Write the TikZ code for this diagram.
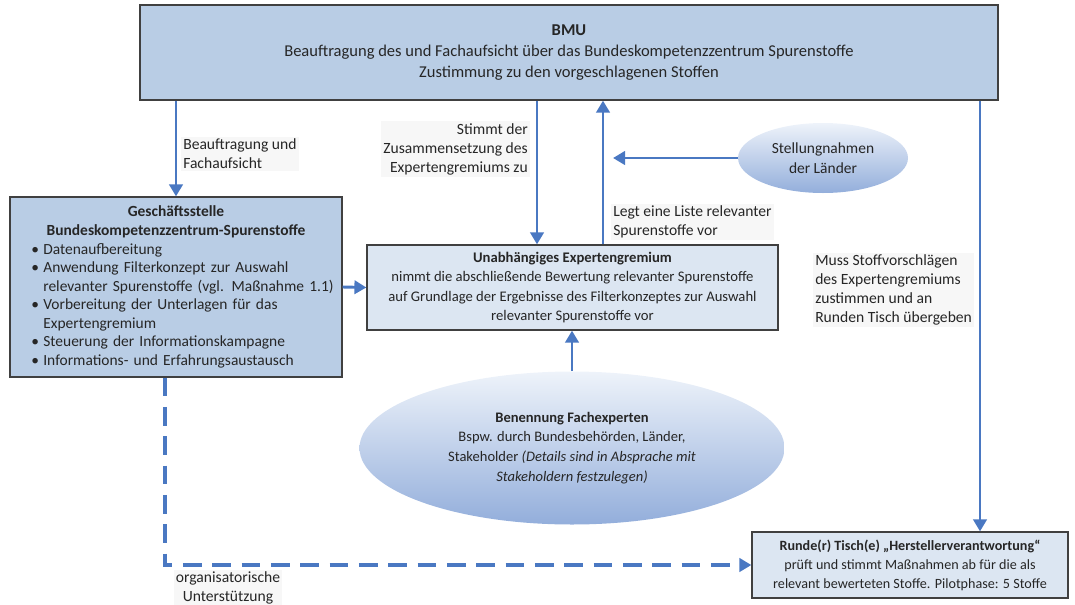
\documentclass[tikz,border=0pt]{standalone}
\usepackage{fontspec}
\setmainfont{Carlito}
\usetikzlibrary{arrows.meta,shapes.geometric}
\definecolor{boxblue}{HTML}{B9CDE5}
\definecolor{paleblue}{HTML}{DCE6F2}
\definecolor{arrowblue}{HTML}{4A78C2}
\definecolor{framegray}{HTML}{404040}
\definecolor{elltop}{HTML}{EEF3FA}
\definecolor{ellbot}{HTML}{93AEDB}
\newcommand{\gsitem}[1]{\par\noindent\makebox[9pt][l]{\textbullet}#1}
\newcommand{\gsnext}{\newline\hspace*{9pt}}

\begin{document}
\begin{tikzpicture}[x=0.75pt,y=-0.75pt,
    txt/.style={font=\fontsize{10.8}{14.4}\selectfont, text=black!85},
    box/.style={txt, draw=framegray, line width=0.9pt, align=center},
    oval/.style={txt, ellipse, top color=elltop, bottom color=ellbot, align=center, inner sep=0pt},
    lbl/.style={txt, font=\fontsize{11.7}{14.3}\selectfont, fill=black!3, inner sep=1.5pt},
    arr/.style={draw=arrowblue, line width=2.2pt, -{Triangle[width=10pt,length=9pt]}},
    dasharr/.style={arr, line width=3pt, dash pattern=on 14pt off 8pt}]
  \useasboundingbox (0,0) rectangle (1075,604);
  %%%%% START %%%%%
  \node[box, fill=boxblue, minimum width=643.5pt, minimum height=71.25pt,
    font=\fontsize{12.4}{15.7}\selectfont] (bmu) at (569,52.5)
    {\textbf{BMU}\\Beauftragung des und Fachaufsicht über das Bundeskompetenzzentrum Spurenstoffe\\Zustimmung zu den vorgeschlagenen Stoffen};

  \node[draw=framegray, line width=0.9pt, fill=boxblue, text=black!85, text width=249pt,
    inner xsep=0pt, minimum height=135pt,
    font=\fontsize{11.6}{13.9}\selectfont] (gs) at (176,287)
    {\centering\textbf{Geschäftsstelle}\par\textbf{Bundeskompetenzzentrum-Spurenstoffe}\par
     \raggedright\leftskip=16pt
     \gsitem{Datenaufbereitung}
     \gsitem{Anwendung Filterkonzept zur Auswahl\gsnext relevanter Spurenstoffe (vgl. Maßnahme 1.1)}
     \gsitem{Vorbereitung der Unterlagen für das\gsnext Expertengremium}
     \gsitem{Steuerung der Informationskampagne}
     \gsitem{Informations- und Erfahrungsaustausch}\par};

  \node[box, fill=paleblue, minimum width=308.25pt, minimum height=63.75pt,
    font=\fontsize{11}{14.6}\selectfont] (exp) at (572.5,287.5)
    {\textbf{Unabhängiges Expertengremium}\\nimmt die abschließende Bewertung relevanter Spurenstoffe\\auf Grundlage der Ergebnisse des Filterkonzeptes zur Auswahl\\relevanter Spurenstoffe vor};

  \node[box, fill=paleblue, minimum width=237pt, minimum height=49.5pt,
    font=\fontsize{10.6}{14.2}\selectfont] (rt) at (910,565)
    {\textbf{Runde(r) Tisch(e) „Herstellerverantwortung“}\\prüft und stimmt Maßnahmen ab für die als\\relevant bewerteten Stoffe. Pilotphase: 5 Stoffe};

  \node[oval, minimum width=127.5pt, minimum height=52.5pt,
    font=\fontsize{11.6}{14.8}\selectfont] (lnd) at (823,158)
    {Stellungnahmen\\der Länder};

  \node[oval, minimum width=318.75pt, minimum height=114.75pt,
    font=\fontsize{10.9}{14.8}\selectfont] (fach) at (572,448)
    {\textbf{Benennung Fachexperten}\\Bspw. durch Bundesbehörden, Länder,\\Stakeholder \textit{(Details sind in Absprache mit}\\\textit{Stakeholdern festzulegen)}};

  % Pfeile
  \coordinate (xa) at (537,0);
  \coordinate (xb) at (603,0);
  \coordinate (xc) at (980,0);
  \coordinate (xd) at (165,0);
  \coordinate (lndend) at (613,158);

  \draw[arr] (gs.north |- bmu.south) -- (gs.north);
  \draw[arr] (gs.east) -- (exp.west);
  \draw[arr] (bmu.south -| xa) -- (exp.north -| xa);
  \draw[arr] (exp.north -| xb) -- (bmu.south -| xb);
  \draw[arr] (lnd.west) -- (lndend);
  \draw[arr] (fach.north) -- (fach.north |- exp.south);
  \draw[arr] (bmu.south -| xc) -- (rt.north -| xc);
  \draw[dasharr] (gs.south -| xd) |- (rt.west);

  % Beschriftungen
  \node[lbl, anchor=west, align=left] (l1) at (181,154) {Beauftragung und\\Fachaufsicht};
  \node[lbl, anchor=east, align=right] (l2) at (530,149) {Stimmt der\\Zusammensetzung des\\Expertengremiums zu};
  \node[lbl, anchor=west, align=left] (l3) at (611,222) {Legt eine Liste relevanter\\Spurenstoffe vor};
  \node[lbl, anchor=west, align=left] (l4) at (813,290) {Muss Stoffvorschlägen\\des Expertengremiums\\zustimmen und an\\Runden Tisch übergeben};
  \node[lbl, align=center] (l5) at (228,588) {organisatorische\\Unterstützung};
  %%%%% END %%%%%
\end{tikzpicture}
\end{document}
